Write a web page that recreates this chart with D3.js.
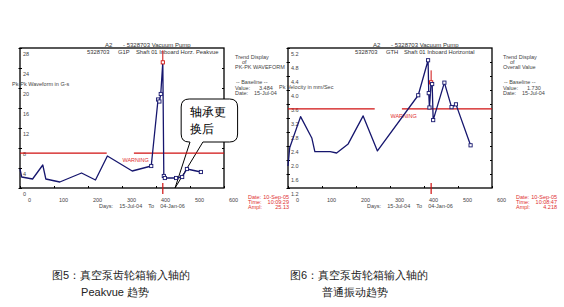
<!DOCTYPE html>
<html>
<head>
<meta charset="utf-8">
<script src="https://cdn.jsdelivr.net/npm/d3@7/dist/d3.min.js"></script>
<style>
body { margin: 0; background: #fff; }
svg { display: block; }
text { font-family: "Liberation Sans", Arial, sans-serif; }
</style>
</head>
<body>
<svg id="chart" width="564" height="307"></svg>
<script>
// ---- data ----
// days after 15-Jul-04
var xTicks = [0, 100, 200, 300, 400, 500, 600];

// fig 5 : peakvue pk-pk waveform (G-s)
var peakDays = [0, 5, 37, 67, 76, 117, 181, 222, 257, 330, 386, 406, 410, 414, 420, 423, 426, 459, 477, 491, 532];
var peakVals = [3.8, 2.2, 1.8, 4.6, 1.8, 1.2, 3.0, 1.6, 6.4, 3.4, 4.4, 17.7, 17.3, 18.8, 25.13, 2.4, 2.0, 2.0, 2.2, 3.8, 3.2];
var peakTicks = [0, 4, 8, 12, 16, 20, 24, 28];
var peakWarning = 6.968;

// fig 6 : overall velocity (mm/Sec)
var velDays = [0, 5, 37, 70, 79, 124, 143, 177, 221, 263, 383, 412, 414, 416, 421, 424, 427, 460, 481, 494, 537];
var velVals = [1.83, 2.35, 3.24, 2.63, 2.24, 2.24, 2.2, 2.46, 3.26, 2.26, 3.85, 4.85, 3.91, 3.5, 4.218, 4.17, 3.14, 4.21, 3.51, 3.59, 2.42];
var velTicks = [1.2, 1.6, 2.0, 2.4, 2.8, 3.2, 3.6, 4.0, 4.4, 4.8, 5.2];
var velWarning = 3.46;

var svg = d3.select("#chart");

/*
 * draws one trend plot (frame, axes, warning line, trend line, texts)
 */
function renderTrend(svg, o) {
    var left = o.left, right = o.left + 204, top = 48, bottom = 188;
    var x = d3.scaleLinear().domain([0, 600]).range([left, right]);
    var y = d3.scaleLinear().domain([o.ticks[0], o.ticks[o.ticks.length - 1]]).range([bottom, top]);
    var g = svg.append("g");

    // frame
    g.append("rect")
        .attr("x", left).attr("y", top)
        .attr("width", right - left).attr("height", bottom - top)
        .attr("fill", "none").attr("stroke", "#000").attr("stroke-width", 1.3);

    // left axis, labels sit inside, just under the tick
    var ya = g.append("g")
        .attr("transform", "translate(" + left + ",0)")
        .call(d3.axisRight(y).tickValues(o.ticks).tickSize(2).tickFormat(o.fmt));
    ya.select(".domain").remove();
    ya.selectAll("line").attr("x1", -1.5).attr("stroke", "#000");
    ya.selectAll("text")
        .attr("x", 3).attr("y", 7).attr("dy", 0)
        .attr("font-size", 5.5).attr("fill", "#444").attr("font-family", "Liberation Sans, Arial");

    // right frame ticks
    var yr = g.append("g")
        .attr("transform", "translate(" + right + ",0)")
        .call(d3.axisLeft(y).tickValues(o.ticks.slice(1, -1)).tickSize(2).tickFormat(""));
    yr.select(".domain").remove();
    yr.selectAll("line").attr("stroke", "#000");

    // bottom axis, labels shifted right of the tick
    var xa = g.append("g")
        .attr("transform", "translate(0," + bottom + ")")
        .call(d3.axisBottom(x).tickValues(xTicks).tickSize(-2));
    xa.select(".domain").remove();
    xa.selectAll("line").attr("stroke", "#000");
    xa.selectAll("text")
        .attr("x", 9).attr("y", 14).attr("dy", 0)
        .attr("font-size", 5.5).attr("fill", "#444").attr("font-family", "Liberation Sans, Arial");

    g.append("text")
        .attr("x", (left + right) / 2 + 20).attr("y", 208)
        .attr("text-anchor", "middle").attr("font-size", 5.5).attr("fill", "#444")
        .style("white-space", "pre")
        .text("Days:    15-Jul-04    To    04-Jan-06");

    // titles
    var t1 = [["A2", 85], ["- 5328703 Vacuum Pump", 103]];
    var t2 = [["5328703", 67], [o.code, 98], [o.point, 116]];
    t1.forEach(function(t) {
        g.append("text").attr("x", left + t[1]).attr("y", 47)
            .attr("font-size", 6).attr("fill", "#333").text(t[0]);
    });
    t2.forEach(function(t) {
        g.append("text").attr("x", left + t[1]).attr("y", 54)
            .attr("font-size", 5.8).attr("fill", "#333").text(t[0]);
    });

    // y axis title
    g.append("text").attr("x", left + o.ylabX).attr("y", o.ylabY)
        .attr("font-size", 5.5).attr("fill", "#444").text(o.ylabel);

    // right side info
    var info = g.append("g").attr("font-size", 5.5).attr("fill", "#444");
    info.append("text").attr("x", right + 11).attr("y", 59).text("Trend Display");
    info.append("text").attr("x", right + 18).attr("y", 64).text("of");
    info.append("text").attr("x", right + 11).attr("y", 69).text(o.what);
    info.append("text").attr("x", right + 12).attr("y", 84).style("white-space", "pre").text("-- Baseline --");
    info.append("text").attr("x", right + 11).attr("y", 90).text("Value:");
    info.append("text").attr("x", right + 35).attr("y", 90).text(o.base);
    info.append("text").attr("x", right + 11).attr("y", 95).text("Date:");
    info.append("text").attr("x", right + 30).attr("y", 95).text("15-Jul-04");

    var cur = g.append("g").attr("font-size", 5.5).attr("fill", "#e03030");
    [["Date:", "10-Sep-05"], ["Time:", o.time], ["Ampl:", o.ampl]].forEach(function(r, i) {
        cur.append("text").attr("x", right + 24).attr("y", 199 + i * 5).text(r[0]);
        cur.append("text").attr("x", right + 65).attr("y", 199 + i * 5)
            .attr("text-anchor", "end").text(r[1]);
    });

    if (o.callout) o.callout(g, x, y);

    // warning line with a gap
    var wy = y(o.warning);
    g.append("line").attr("x1", left).attr("x2", x(255)).attr("y1", wy).attr("y2", wy)
        .attr("stroke", "#d01010").attr("stroke-width", 1.1);
    g.append("line").attr("x1", x(335)).attr("x2", right).attr("y1", wy).attr("y2", wy)
        .attr("stroke", "#d01010").attr("stroke-width", 1.1);
    g.append("text").attr("x", x(340)).attr("y", wy + 9)
        .attr("text-anchor", "middle").attr("font-size", 5.5).attr("fill", "#e03030")
        .text("WARNING");

    // cursor
    var cd = o.days[o.cursor], cv = o.vals[o.cursor];
    g.append("line").attr("x1", x(cd)).attr("x2", x(cd)).attr("y1", y(cv) - 12).attr("y2", y(cv))
        .attr("stroke", "#d01010").attr("stroke-width", 1);
    g.append("line").attr("x1", x(cd)).attr("x2", x(cd)).attr("y1", bottom - 5).attr("y2", bottom + 6)
        .attr("stroke", "#d01010").attr("stroke-width", 1.2);

    // trend line
    var pts = o.days.map(function(d, i) { return [d, o.vals[i]]; });
    g.append("path")
        .datum(pts)
        .attr("fill", "none").attr("stroke", "#16166e").attr("stroke-width", 1.3)
        .attr("stroke-linejoin", "round")
        .attr("d", d3.line().x(function(d) { return x(d[0]); }).y(function(d) { return y(d[1]); }));

    g.selectAll("rect.mark")
        .data(pts.filter(function(d) { return d[0] >= 380; }))
        .enter().append("rect")
        .attr("class", "mark")
        .attr("x", function(d) { return x(d[0]) - 1.6; })
        .attr("y", function(d) { return y(d[1]) - 1.6; })
        .attr("width", 3.2).attr("height", 3.2)
        .attr("fill", "#fff")
        .attr("stroke", function(d) { return d[0] === cd ? "#d01010" : "#16166e"; })
        .attr("stroke-width", 0.9);
}

// speech bubble on fig 5
function bubble(g, x, y) {
    var x0 = x(474), x1 = x(640), y0 = y(17.8), y1 = y(9.2), r = 8;
    var b1 = x(500), b2 = x(538), tx = x(456), ty = y(0);
    g.append("rect").attr("x", x0).attr("y", y0)
        .attr("width", x1 - x0).attr("height", y1 - y0)
        .attr("rx", r).attr("fill", "#fff");
    var p = d3.path();
    p.moveTo(b1, y1);
    p.lineTo(x0 + r, y1);
    p.quadraticCurveTo(x0, y1, x0, y1 - r);
    p.lineTo(x0, y0 + r);
    p.quadraticCurveTo(x0, y0, x0 + r, y0);
    p.lineTo(x1 - r, y0);
    p.quadraticCurveTo(x1, y0, x1, y0 + r);
    p.lineTo(x1, y1 - r);
    p.quadraticCurveTo(x1, y1, x1 - r, y1);
    p.lineTo(b2, y1);
    p.lineTo(tx, ty);
    p.lineTo(b1, y1);
    g.append("path").attr("d", p.toString())
        .attr("fill", "none").attr("stroke", "#000").attr("stroke-width", 1);
    g.append("text").attr("x", x0 + 9).attr("y", y0 + 17)
        .attr("font-family", "Noto Sans CJK SC").attr("font-size", 12).attr("fill", "#000")
        .text("轴承更");
    g.append("text").attr("x", x0 + 9).attr("y", y0 + 34)
        .attr("font-family", "Noto Sans CJK SC").attr("font-size", 12).attr("fill", "#000")
        .text("换后");
}

renderTrend(svg, {
    left: 20, days: peakDays, vals: peakVals, ticks: peakTicks, warning: peakWarning,
    fmt: d3.format("d"), cursor: 14,
    code: "G1P", point: "Shaft 01 Inboard Horz. Peakvue",
    ylabel: "Pk-Pk Waveform in G-s", ylabX: -8, ylabY: 86,
    what: "PK-PK WAVEFORM", base: "3.484", time: "10:09:29", ampl: "25.13",
    callout: bubble
});

renderTrend(svg, {
    left: 288, days: velDays, vals: velVals, ticks: velTicks, warning: velWarning,
    fmt: d3.format(".1f"), cursor: 14,
    code: "GTH", point: "Shaft 01 Inboard Horizontal",
    ylabel: "Pk Velocity in mm/Sec", ylabX: -9, ylabY: 89,
    what: "Overall Value", base: "1.730", time: "10:08:47", ampl: "4.218"
});

// captions
var caps = [
    [121, 279, "图5：真空泵齿轮箱输入轴的"], [115, 296, "Peakvue 趋势"],
    [359, 279, "图6：真空泵齿轮箱输入轴的"], [355, 296, "普通振动趋势"]
];
svg.selectAll("text.cap")
    .data(caps)
    .enter().append("text")
    .attr("class", "cap")
    .attr("x", function(d) { return d[0]; })
    .attr("y", function(d) { return d[1]; })
    .attr("text-anchor", "middle")
    .attr("font-family", "Noto Sans CJK SC")
    .attr("font-size", 11)
    .attr("fill", "#222")
    .text(function(d) { return d[2]; });
</script>
</body>
</html>
